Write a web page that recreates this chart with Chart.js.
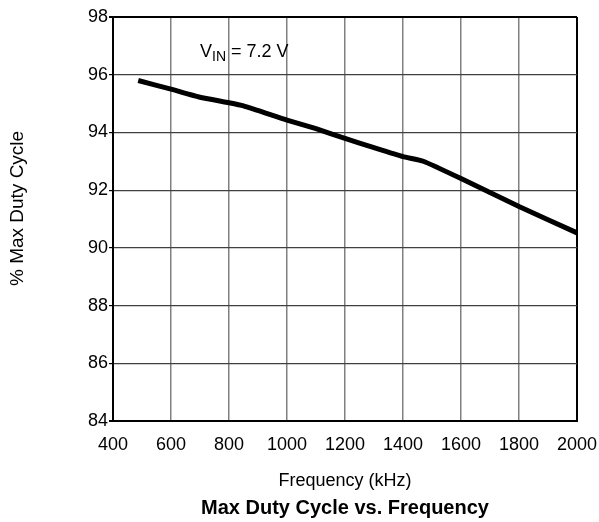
<!DOCTYPE html>
<html>
<head>
<meta charset="utf-8">
<script src="https://cdn.jsdelivr.net/npm/chart.js@4.4.1/dist/chart.umd.min.js"></script>
<style>
  html, body { margin: 0; padding: 0; background: #fff; }
  #wrap { width: 599px; height: 522px; }
</style>
</head>
<body>
<div id="wrap"><canvas id="dutyChart"></canvas></div>
<script>
// Data (frequency in kHz, % max duty cycle)
const freqKHz = [487, 600, 700, 800, 850, 1000, 1100, 1200, 1300, 1400, 1470, 1600, 1800, 2000];
const dutyPct = [95.8, 95.5, 95.22, 95.03, 94.92, 94.43, 94.13, 93.79, 93.47, 93.16, 93.0, 92.4, 91.43, 90.52];

const xTicks = [400, 600, 800, 1000, 1200, 1400, 1600, 1800, 2000];
const yTicks = [84, 86, 88, 90, 92, 94, 96, 98];

const FONT = 'Liberation Sans, Arial, Helvetica, sans-serif';

// V_IN = 7.2 V label with subscript
const vinLabel = {
    id: 'vinLabel',
    afterDraw(chart) {
        const ctx = chart.ctx;
        const x = chart.scales.x.getPixelForValue(700);
        const y = chart.scales.y.getPixelForValue(96.6);
        ctx.save();
        ctx.fillStyle = '#000';
        ctx.textBaseline = 'alphabetic';
        ctx.font = '18px ' + FONT;
        ctx.fillText('V', x, y);
        let w = ctx.measureText('V').width;
        ctx.font = '14px ' + FONT;
        ctx.fillText('IN', x + w, y + 4);
        w += ctx.measureText('IN').width;
        ctx.font = '18px ' + FONT;
        ctx.fillText(' = 7.2 V', x + w, y);
        ctx.restore();
    }
};

function gridColor(scale, ctx, inner) {
    const last = scale === 'x' ? xTicks.length - 1 : yTicks.length - 1;
    return (ctx.index === 0 || ctx.index === last) ? '#000' : inner;
}

new Chart(document.getElementById('dutyChart'), {
    type: 'line',
    data: {
        datasets: [{
            data: freqKHz.map((f, i) => ({ x: f, y: dutyPct[i] })),
            borderColor: '#000',
            borderWidth: 5,
            pointRadius: 0,
            tension: 0.15,
            fill: false
        }]
    },
    options: {
        responsive: true,
        maintainAspectRatio: false,
        animation: false,
        layout: { padding: { top: 17, right: 22, left: 0, bottom: 0 } },
        plugins: {
            legend: { display: false },
            tooltip: { enabled: false },
            title: {
                display: true,
                position: 'bottom',
                fullSize: false,
                text: 'Max Duty Cycle vs. Frequency',
                color: '#000',
                font: { family: FONT, size: 20, weight: 'bold' },
                padding: { top: 4, bottom: 2 }
            }
        },
        scales: {
            x: {
                type: 'linear',
                min: 400,
                max: 2000,
                afterBuildTicks: s => { s.ticks = xTicks.map(v => ({ value: v })); },
                afterFit: s => { s.height = 71; s.paddingRight = 0; s.paddingLeft = 0; },
                ticks: {
                    color: '#000', font: { family: FONT, size: 18 }, padding: 13, maxRotation: 0,
                    callback: v => String(v)
                },
                grid: {
                    drawTicks: false,
                    color: c => gridColor('x', c, '#808080'),
                    lineWidth: c => (c.index === 0 || c.index === xTicks.length - 1) ? 2 : 1.5
                },
                border: { color: '#000', width: 2 },
                title: {
                    display: true,
                    text: 'Frequency (kHz)',
                    color: '#000',
                    font: { family: FONT, size: 18 },
                    padding: { top: 0, bottom: 0 }
                }
            },
            y: {
                min: 84,
                max: 98,
                afterBuildTicks: s => { s.ticks = yTicks.map(v => ({ value: v })); },
                afterFit: s => { s.width = 113; },
                ticks: { color: '#000', font: { family: FONT, size: 18 }, padding: 1 },
                grid: {
                    tickLength: 4,
                    tickColor: '#000',
                    color: c => gridColor('y', c, '#404040'),
                    lineWidth: c => (c.index === 0 || c.index === yTicks.length - 1) ? 2 : 1.2
                },
                border: { color: '#000', width: 2 },
                title: {
                    display: true,
                    text: '    % Max Duty Cycle',
                    color: '#000',
                    font: { family: FONT, size: 19 },
                    padding: { top: 6, bottom: 0 }
                }
            }
        }
    },
    plugins: [vinLabel]
});
</script>
</body>
</html>
